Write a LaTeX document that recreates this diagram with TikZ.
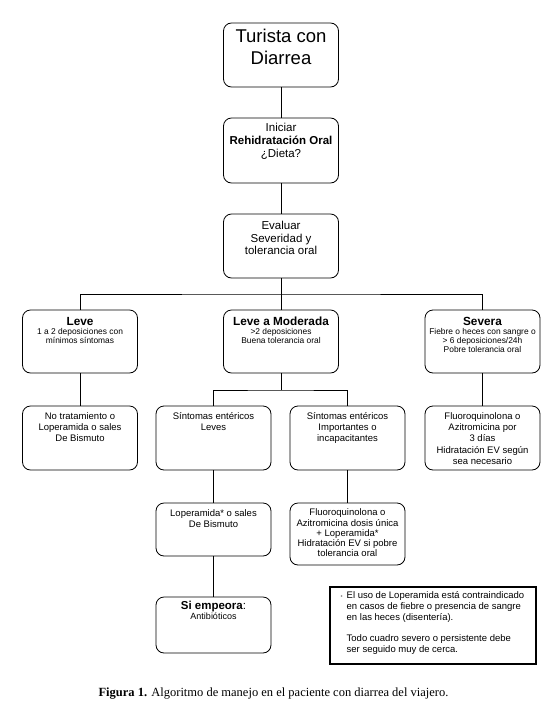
\documentclass[tikz,border=0pt]{standalone}
\usepackage{fontspec}
\setmainfont{Liberation Sans}
\newfontfamily\capfont{Liberation Serif}
\newcommand\fzTitle{\fontsize{18.5}{22}\selectfont}
\newcommand\fzMain{\fontsize{11.5}{12.8}\selectfont}
\newcommand\fzEval{\fontsize{11.5}{12.5}\selectfont}
\newcommand\fzHead{\fontsize{11.8}{13}\selectfont}
\newcommand\fzSmall{\fontsize{8.4}{9}\selectfont}
\newcommand\fzBody{\fontsize{9.5}{11.2}\selectfont}
\newcommand\fzTight{\fontsize{9.5}{10.2}\selectfont}
\newcommand\fzNote{\fontsize{9.5}{10.8}\selectfont}
\newcommand\boxin[4]{\begin{minipage}[c][#2][t]{#1}\lineskiplimit=-100pt\centering\vspace*{#3}#4\end{minipage}}
\tikzset{
  box/.style={draw, line width=0.8pt, rounded corners=8pt, inner sep=0pt, outer sep=0pt},
  notebox/.style={draw, line width=1.1pt, inner sep=0pt, outer sep=0pt},
  conn/.style={line width=0.8pt},
}
\begin{document}
\begin{tikzpicture}[x=1pt,y=-1pt]
\useasboundingbox[fill=white] (0,0) rectangle (559,723);
% top column
\node[box] (t1) at (281,55) {\boxin{115pt}{64pt}{4.5pt}{\fzTitle\strut Turista con\\Diarrea}};
\node[box] (t2) at (281,150.5) {\boxin{115pt}{65pt}{4.6pt}{\fzMain\strut Iniciar\\\textbf{Rehidratación Oral}\\¿Dieta?}};
\node[box] (t3) at (281,246) {\boxin{115pt}{64pt}{7.2pt}{\fzEval\strut Evaluar\\Severidad y\\tolerancia oral}};
% row 1
\node[box] (r1a) at (80,341.5) {\boxin{115pt}{63pt}{5.9pt}{{\fzHead\strut\textbf{Leve}\par}\vspace{0.7pt}{\fzSmall 1 a 2 deposiciones con\\mínimos síntomas\par}}};
\node[box] (r1b) at (281,341.5) {\boxin{115pt}{63pt}{5.9pt}{{\fzHead\strut\textbf{Leve a Moderada}\par}\vspace{0.2pt}{\fzSmall >2 deposiciones\\Buena tolerancia oral\par}}};
\node[box] (r1c) at (482.5,341.5) {\boxin{115pt}{63pt}{5.9pt}{{\fzHead\strut\textbf{Severa}\par}\vspace{0.2pt}{\fzSmall Fiebre o heces con sangre o\\> 6 deposiciones/24h\\Pobre tolerancia oral\par}}};
% row 2
\node[box] (r2a) at (80,438) {\boxin{115pt}{64pt}{5.7pt}{\fzBody\strut No tratamiento o\\Loperamida o sales\\De Bismuto}};
\node[box] (r2b) at (213.5,438) {\boxin{115pt}{64pt}{5.7pt}{\fzBody\strut Síntomas entéricos\\Leves}};
\node[box] (r2c) at (347.5,438) {\boxin{115pt}{64pt}{5.7pt}{\fzBody\strut Síntomas entéricos\\Importantes o\\incapacitantes}};
\node[box] (r2d) at (482.5,438) {\boxin{115pt}{64pt}{5.7pt}{\fzBody\strut Fluoroquinolona o\\Azitromicina por\\3 días\\Hidratación EV según\\sea necesario}};
% row 3
\node[box] (r3a) at (213.5,529.5) {\boxin{115pt}{53pt}{5.2pt}{\fzBody\strut Loperamida* o sales\\De Bismuto}};
\node[box] (r3b) at (347.5,534) {\boxin{115pt}{62pt}{5.7pt}{\fzTight\strut Fluoroquinolona o\\Azitromicina dosis única\\+ Loperamida*\\Hidratación EV si pobre\\tolerancia oral}};
% row 4
\node[box] (r4) at (213.5,625) {\boxin{115pt}{56pt}{3.2pt}{{\fzMain\strut\textbf{Si empeora}:\par}\vspace{-0.2pt}{\fontsize{9}{10.7}\selectfont Antibióticos\par}}};
% note
\node[notebox] (note) at (433,625.5) {\begin{minipage}[c][77pt][t]{206pt}\lineskiplimit=-100pt\raggedright\leftskip=16.7pt\vspace*{4pt}\fzNote\strut\llap{\makebox[6pt][l]{\textcolor{black!55}{\fontsize{6}{6}\selectfont •}}}El uso de Loperamida está contraindicado\\en casos de fiebre o presencia de sangre\\en las heces (disentería).\\[10.8pt]Todo cuadro severo o persistente debe\\ser seguido muy de cerca.\end{minipage}};
% caption
\node[anchor=base, inner sep=0pt] (cap) at (273.5,696) {\capfont\fontsize{12.5}{14}\selectfont\textbf{Figura 1.} Algoritmo de manejo en el paciente con diarrea del viajero.};
% connectors
\coordinate (j1) at (281,294);
\coordinate (j2) at (281,390);
\draw[conn] (t1.south) -- (t2.north);
\draw[conn] (t2.south) -- (t3.north);
\draw[conn] (t3.south) -- (j1);
\draw[conn] (r1a.north) |- (j1) -| (r1c.north);
\draw[conn] (j1) -- (r1b.north);
\draw[conn] (r1a.south) -- (r2a.north);
\draw[conn] (r1c.south) -- (r2d.north);
\draw[conn] (r1b.south) -- (j2);
\draw[conn] (r2b.north) |- (j2) -| (r2c.north);
\draw[conn] (r2b.south) -- (r3a.north);
\draw[conn] (r2c.south) -- (r3b.north);
\draw[conn] (r3a.south) -- (r4.north);
\end{tikzpicture}
\end{document}
